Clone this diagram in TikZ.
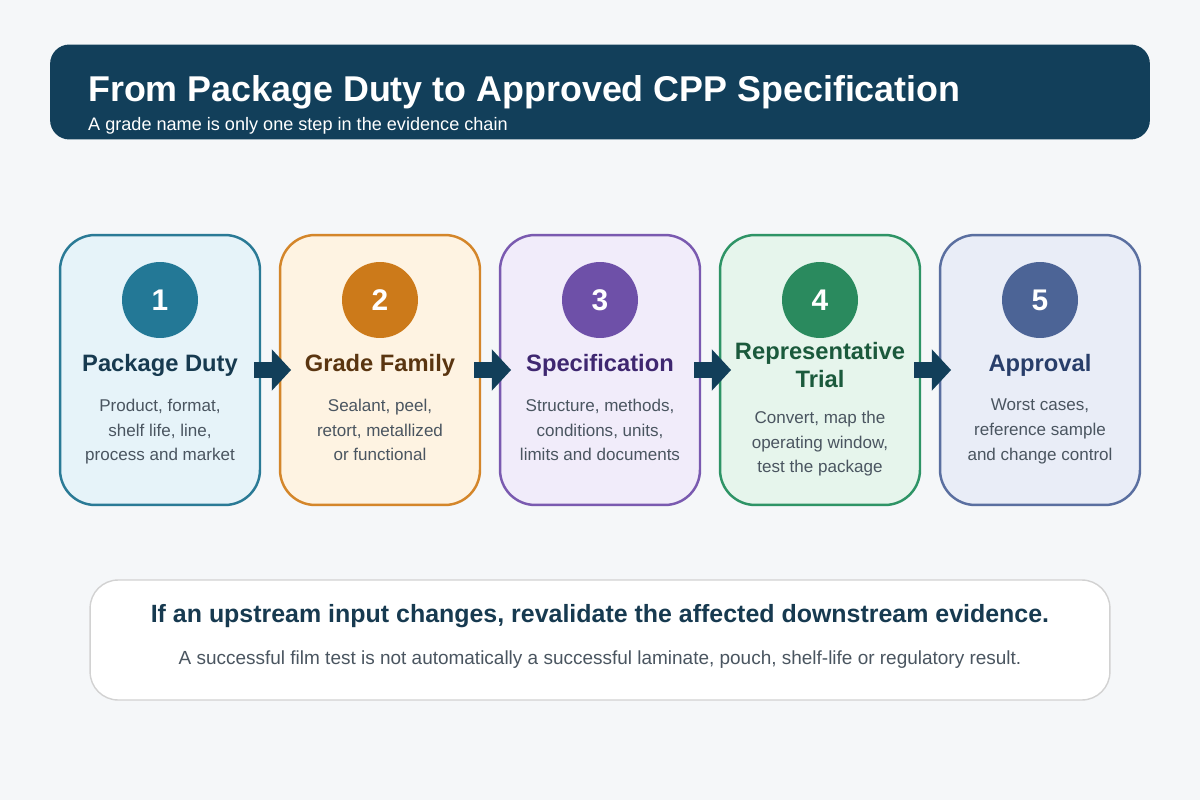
\documentclass[tikz,border=0pt]{standalone}
\usepackage{fontspec}
\setmainfont{Liberation Sans}
\usepackage{xcolor}
\usetikzlibrary{arrows.meta, positioning}

\definecolor{bgcol}{HTML}{F5F7F9}
\definecolor{navy}{HTML}{123F5A}
\definecolor{bodytxt}{HTML}{4A5560}
\definecolor{drawA}{HTML}{2A7A96}\definecolor{fillA}{HTML}{E6F3F9}\definecolor{dotA}{HTML}{237896}\definecolor{headA}{HTML}{173A50}
\definecolor{drawB}{HTML}{D4862A}\definecolor{fillB}{HTML}{FEF3E2}\definecolor{dotB}{HTML}{CC7A1A}\definecolor{headB}{HTML}{5A3510}
\definecolor{drawC}{HTML}{7A5AB0}\definecolor{fillC}{HTML}{F1ECFA}\definecolor{dotC}{HTML}{6E50A8}\definecolor{headC}{HTML}{3F2770}
\definecolor{drawD}{HTML}{2E9466}\definecolor{fillD}{HTML}{E6F5EC}\definecolor{dotD}{HTML}{2A8A5E}\definecolor{headD}{HTML}{1B5A3C}
\definecolor{drawE}{HTML}{5A6FA0}\definecolor{fillE}{HTML}{E9EDF7}\definecolor{dotE}{HTML}{4C6496}\definecolor{headE}{HTML}{283E6A}

\begin{document}
\begin{tikzpicture}[
    x=0.02cm, y=-0.02cm,
    card/.style={rectangle, rounded corners=20pt, line width=1.4pt, minimum width=4cm, minimum height=5.4cm},
    dot/.style={circle, minimum size=1.52cm, inner sep=0pt, text=white, font=\bfseries\fontsize{17}{20}\selectfont},
    head/.style={align=center, font=\bfseries\fontsize{13.5}{15.5}\selectfont},
    body/.style={align=center, text=bodytxt, font=\fontsize{9.7}{14}\selectfont},
    flow/.style={line width=9pt, navy, -{Triangle[length=11pt, width=23pt]}}
]
\useasboundingbox[fill=bgcol] (0,0) rectangle (1200,800);

% header
\node[fill=navy, rounded corners=11pt, minimum width=22cm, minimum height=1.9cm] (banner) at (600,92) {};
\node[anchor=west, text=white, font=\bfseries\fontsize{20.4}{24}\selectfont] (title) at (82,92) {From Package Duty to Approved CPP Specification};
\node[anchor=west, text=white, font=\fontsize{10.3}{12}\selectfont] (subtitle) at (82,126) {A grade name is only one step in the evidence chain};

% steps
\foreach \i/\x/\c/\t/\y/\b in {
    1/160/A/{Package Duty}/393/{Product, format,\\shelf life, line,\\process and market},
    2/380/B/{Grade Family}/393/{Sealant, peel,\\retort, metallized\\or functional},
    3/600/C/{Specification}/393/{Structure, methods,\\conditions, units,\\limits and documents},
    4/820/D/{Representative\\Trial}/405/{Convert, map the\\operating window,\\test the package},
    5/1040/E/{Approval}/393/{Worst cases,\\reference sample\\and change control}} {
  \node[card, draw=draw\c, fill=fill\c] (card\i) at (\x,370) {};
  \node[dot, fill=dot\c] (num\i) at (\x,300) {\i};
  \node[head, text=head\c] (name\i) at (\x,365) {\t};
  \node[body, anchor=north] (text\i) at (\x,\y) {\b};
}

\foreach \i [evaluate=\i as \j using int(\i+1)] in {1,...,4}
  \draw[flow] ([xshift=-4pt]card\i.east) -- ([xshift=7pt]card\j.west);

% note
\node[rectangle, rounded corners=16pt, draw=gray!35, line width=0.8pt, fill=white, minimum width=20.4cm, minimum height=2.4cm] (note) at (600,640) {};
\node[text=headA, font=\bfseries\fontsize{14.2}{17}\selectfont] (warn) at (600,616) {If an upstream input changes, revalidate the affected downstream evidence.};
\node[text=bodytxt, font=\fontsize{10.8}{13}\selectfont] (hint) at (600,660) {A successful film test is not automatically a successful laminate, pouch, shelf-life or regulatory result.};

\end{tikzpicture}
\end{document}
